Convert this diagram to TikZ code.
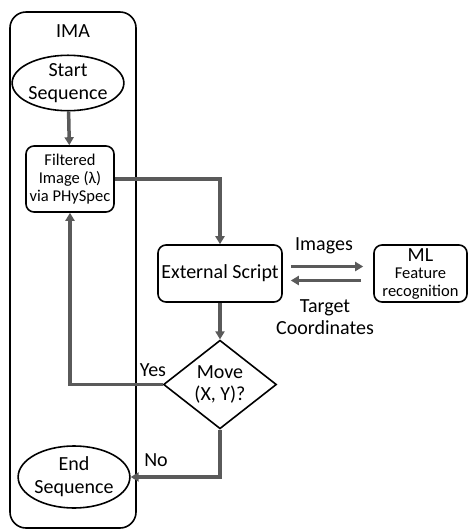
\documentclass[tikz,border=0pt]{standalone}
\usepackage{fontspec}
\setmainfont{Carlito}
\usepackage{tikz}
\usetikzlibrary{shapes.geometric, arrows.meta, positioning}
\definecolor{linegray}{RGB}{90,90,90}
\tikzstyle{line} = [draw=linegray, -{Triangle[length=8pt,width=9pt]}, line width=3.5pt]
\tikzstyle{block} = [rectangle, draw, line width=1.6pt, rounded corners=8pt,
  text centered, inner sep=0pt]
\tikzstyle{term} = [ellipse, draw, line width=1.6pt, text centered, inner sep=0pt,
  align=center, font=\fontsize{20}{23}\selectfont]
\tikzstyle{decide} = [diamond, draw, line width=1.6pt, inner sep=0pt, align=center,
  font=\fontsize{20}{22}\selectfont]
\tikzstyle{lbl} = [inner sep=0pt, align=center, font=\fontsize{20}{22}\selectfont]

\begin{document}
\begin{tikzpicture}[x=1pt, y=-1pt]

      %
      % Frame
      %

      \useasboundingbox (0,0) rectangle (468,531);
      \node [block, rounded corners=16pt, minimum width=126pt, minimum height=516pt] (ima) at (73,270) {};
      \node [lbl] (imatitle) at (73,31) {IMA};

      %
      % Nodes
      %

      \node [term, minimum width=99pt, minimum height=53pt] (start) at (68,83) {Start\\Sequence};
      \node [block, minimum width=88pt, minimum height=66pt, align=center,
        font=\fontsize{16.5}{18}\selectfont] (filt) at (70,179) {Filtered\\Image (λ)\\via PHySpec};
      \node [block, minimum width=124pt, minimum height=57pt,
        font=\fontsize{20}{22}\selectfont] (ext) at (220,273.5) {External Script};
      \node [block, minimum width=93pt, minimum height=57pt, align=center,
        font=\fontsize{16.5}{17.5}\selectfont] (ml) at (420.5,273.5) {{\fontsize{20}{20}\selectfont ML}\\Feature\\recognition};
      \node [decide, minimum width=113pt, minimum height=87pt] (move) at (220,384.5) {Move\\(X, Y)?};
      \node [term, minimum width=98pt, minimum height=62pt] (endseq) at (74,477) {End\\Sequence};

      \node [lbl] (yes) at (153,370) {Yes};
      \node [lbl] (no) at (156,460) {No};
      \node [lbl] (images) at (324,246) {Images};
      \node [lbl] (target) at (325,317) {Target\\Coordinates};

      %
      % Connectors
      %

      \path [line] (start) -- (filt);
      \path [line] (filt.east) -| (ext.north);
      \path [line] (ext) -- (move);
      \path [line] (move.west) -| (filt.south);
      \path [line] (move.south) |- (endseq.east);
      \path [line, shorten <=8pt, shorten >=10pt] ([yshift=7pt]ext.east) -- ([yshift=7pt]ml.west);
      \path [line, shorten <=12pt, shorten >=8pt] ([yshift=-7pt]ml.west) -- ([yshift=-7pt]ext.east);

    \end{tikzpicture}
\end{document}
